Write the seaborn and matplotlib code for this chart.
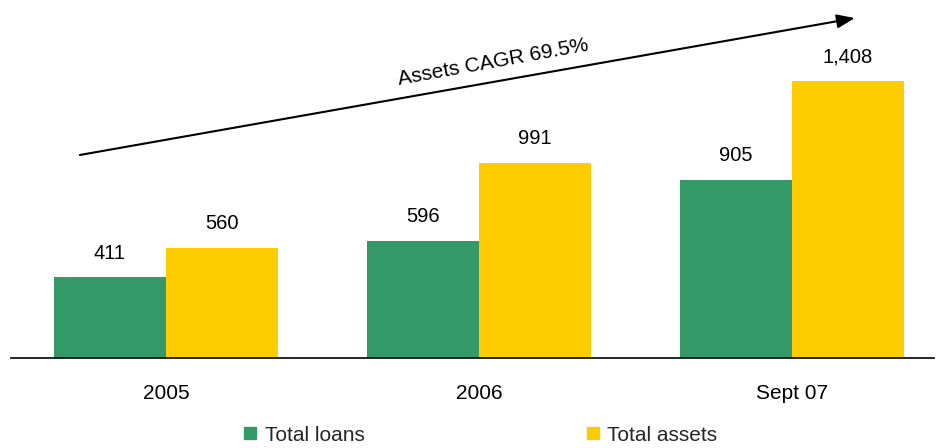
import matplotlib
matplotlib.use("Agg")
import matplotlib.pyplot as plt
from matplotlib.lines import Line2D
import seaborn as sns
import pandas as pd

periods = ["2005", "2006", "Sept 07"]
total_loans = [411, 596, 905]
total_assets = [560, 991, 1408]
series_names = ["Total loans", "Total assets"]
palette = ["#339966", "#FFCC00"]

df = pd.DataFrame({
    "period": periods * 2,
    "value": total_loans + total_assets,
    "series": [series_names[0]] * 3 + [series_names[1]] * 3,
})

sns.set_theme(style="white")
plt.rcParams["font.family"] = ["Liberation Sans", "DejaVu Sans"]

fig = plt.figure(figsize=(9.42, 4.48), dpi=100)
ax = fig.add_axes([0.0117, 0.201, 0.9798, 0.799])

sns.barplot(data=df, x="period", y="value", hue="series", palette=palette,
            width=0.716, saturation=1, linewidth=0, edgecolor="none",
            ax=ax, legend=False)

ax.set_xlim(-0.495, 2.454)
ax.set_ylim(0, 1820)
ax.set_xlabel("")
ax.set_ylabel("")
ax.set_yticks([])
for s in ["top", "right", "left"]:
    ax.spines[s].set_visible(False)
ax.spines["bottom"].set_color("black")
ax.spines["bottom"].set_linewidth(1.2)
ax.tick_params(axis="x", length=0, pad=19, labelsize=15, labelcolor="black")

for cont in ax.containers:
    labels = [f"{v:,.0f}" for v in cont.datavalues]
    ax.bar_label(cont, labels=labels, padding=10.5, fontsize=14.5, color="black")

ax.annotate("", xy=(2.201, 1728), xytext=(-0.275, 1032),
            arrowprops=dict(arrowstyle="-|>,head_length=0.9,head_width=0.35",
                            color="black", lw=1.5, shrinkA=0, shrinkB=0))
ax.text(1.045, 1505, "Assets CAGR 69.5%", rotation=10.3, ha="center",
        va="center", fontsize=15, color="black", rotation_mode="anchor")

handles = [Line2D([], [], marker="s", linestyle="", markersize=9,
                  markerfacecolor=c, markeredgecolor=c) for c in palette]
fig.legend(handles, series_names, loc="center",
           bbox_to_anchor=(0.5096, 1 - 435 / 448),
           ncol=2, frameon=False, fontsize=15, handlelength=0.7,
           handletextpad=0.35, columnspacing=10.6)

fig.savefig("out.png", dpi=100)
